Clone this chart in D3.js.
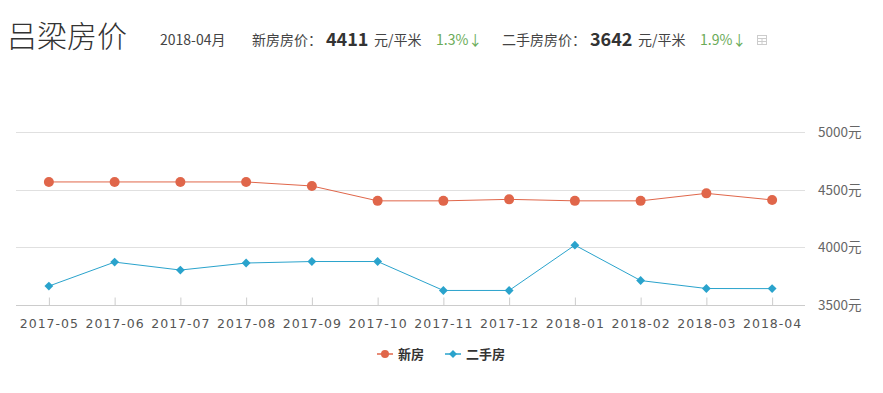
<!DOCTYPE html>
<html>
<head>
<meta charset="utf-8">
<script src="https://cdn.jsdelivr.net/npm/d3@7"></script>
<style>
  body { margin: 0; background: #fff; }
  svg { display: block; font-family: "Noto Sans CJK SC", "Noto Sans", sans-serif; }
</style>
</head>
<body>
<div id="chart"></div>
<script>
// data
const months = ['2017-05','2017-06','2017-07','2017-08','2017-09','2017-10','2017-11','2017-12','2018-01','2018-02','2018-03','2018-04'];
const newPrice = [4567, 4567, 4567, 4567, 4532, 4403, 4403, 4416, 4403, 4403, 4468, 4411];
const usedPrice = [3664, 3872, 3803, 3864, 3877, 3877, 3626, 3626, 4019, 3712, 3643, 3642];
const yTicks = [3500, 4000, 4500, 5000];
const seriesNames = ['新房', '二手房'];
const seriesColors = ['#e0664a', '#2aa3cc'];

const width = 883, height = 393;
const plotLeft = 16, plotRight = 805, plotTop = 132, plotBottom = 305;

const svg = d3.select('#chart').append('svg')
    .attr('width', width).attr('height', height);

// header
const head = svg.append('g');
head.append('text').attr('x', 7).attr('y', 47)
    .attr('font-size', 30).attr('font-weight', 300).attr('fill', '#333')
    .text('吕梁房价');
const headItems = [
    {x: 160, text: '2018-04月', fill: '#444'},
    {x: 252, text: '新房房价：', fill: '#444'},
    {x: 374, text: '元/平米', fill: '#444'},
    {x: 436, text: '1.3%↓', fill: '#6aab58'},
    {x: 502, text: '二手房房价：', fill: '#444'},
    {x: 638, text: '元/平米', fill: '#444'},
    {x: 700, text: '1.9%↓', fill: '#6aab58'}
];
head.selectAll('text.small').data(headItems).enter().append('text')
    .attr('class', 'small')
    .attr('x', d => d.x).attr('y', 45)
    .attr('font-size', 14).attr('fill', d => d.fill)
    .text(d => d.text);
head.append('text').attr('x', 326).attr('y', 46)
    .attr('font-size', 18).attr('font-weight', 'bold').attr('fill', '#333').text('4411');
head.append('text').attr('x', 590).attr('y', 46)
    .attr('font-size', 18).attr('font-weight', 'bold').attr('fill', '#333').text('3642');
// small table icon
const icon = head.append('g').attr('transform', 'translate(757,35)')
    .attr('stroke', '#ccc').attr('fill', 'none').attr('stroke-width', 1);
icon.append('rect').attr('x', 0.5).attr('y', 0.5).attr('width', 9).attr('height', 9);
icon.append('line').attr('x1', 0.5).attr('x2', 9.5).attr('y1', 3.5).attr('y2', 3.5);
icon.append('line').attr('x1', 0.5).attr('x2', 9.5).attr('y1', 6.5).attr('y2', 6.5);
icon.append('line').attr('x1', 5).attr('x2', 5).attr('y1', 3.5).attr('y2', 9.5);

// scales
const x = d3.scalePoint().domain(months).range([plotLeft, plotRight]).padding(0.5);
const y = d3.scaleLinear().domain([3500, 5000]).range([plotBottom, plotTop]);

// grid
svg.append('g').selectAll('line').data(yTicks).enter().append('line')
    .attr('x1', plotLeft).attr('x2', plotRight)
    .attr('y1', d => Math.round(y(d)) + 0.5).attr('y2', d => Math.round(y(d)) + 0.5)
    .attr('stroke', d => d === 3500 ? '#ccc' : '#e0e0e0');

// y labels
svg.append('g').selectAll('text').data(yTicks).enter().append('text')
    .attr('x', 818).attr('y', d => y(d) + 5)
    .attr('font-size', 13.5).attr('fill', '#666')
    .text(d => d + '元');

// x axis ticks + labels
const xAxis = d3.axisBottom(x).tickSize(-8).tickPadding(14);
const gx = svg.append('g').attr('transform', 'translate(0,' + (plotBottom + 0.5) + ')').call(xAxis);
gx.select('.domain').remove();
gx.selectAll('.tick line').attr('stroke', '#ccc');
gx.selectAll('.tick text')
    .attr('fill', '#555')
    .attr('letter-spacing', 1)
    .attr('font-family', '"DejaVu Sans", "Noto Sans", sans-serif')
    .style('font-size', '12.5px');

// lines
const line = d3.line().x((d, i) => x(months[i])).y(d => y(d));
const allSeries = [newPrice, usedPrice];
allSeries.forEach((s, k) => {
    svg.append('path').datum(s)
        .attr('d', line).attr('fill', 'none')
        .attr('stroke', seriesColors[k]).attr('stroke-width', 1);
});

svg.append('g').selectAll('circle').data(newPrice).enter().append('circle')
    .attr('cx', (d, i) => x(months[i])).attr('cy', d => y(d))
    .attr('r', 5).attr('fill', seriesColors[0]);

const diamond = d3.symbol().type(d3.symbolDiamond2).size(50);
svg.append('g').selectAll('path').data(usedPrice).enter().append('path')
    .attr('d', diamond)
    .attr('transform', (d, i) => 'translate(' + x(months[i]) + ',' + y(d) + ')')
    .attr('fill', seriesColors[1]);

// legend
const legendX = [377, 445];
const legend = svg.append('g').selectAll('g').data(seriesNames).enter().append('g')
    .attr('transform', (d, i) => 'translate(' + legendX[i] + ',354)');
legend.append('line').attr('x1', 0).attr('x2', 16).attr('y1', 0).attr('y2', 0)
    .attr('stroke', (d, i) => seriesColors[i]).attr('stroke-width', 1.5);
legend.append('path')
    .attr('d', (d, i) => i === 0 ? d3.symbol().type(d3.symbolCircle).size(50)() : d3.symbol().type(d3.symbolDiamond2).size(40)())
    .attr('transform', 'translate(8,0)')
    .attr('fill', (d, i) => seriesColors[i]);
legend.append('text').attr('x', 21).attr('y', 5)
    .attr('font-size', 13).attr('font-weight', 'bold').attr('fill', '#333')
    .text(d => d);
</script>
</body>
</html>
